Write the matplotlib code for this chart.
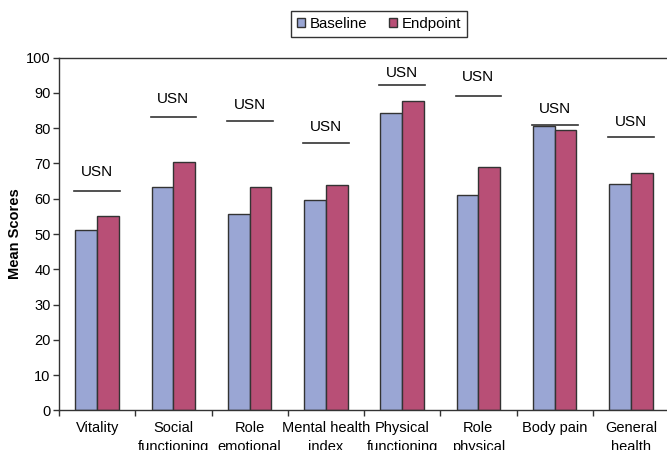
import numpy as np
import matplotlib.pyplot as plt
from matplotlib.patches import Patch

plt.rcParams["font.family"] = ["Liberation Sans", "DejaVu Sans"]

# SF-36 domains, mean scores
categories = ["Vitality", "Social\nfunctioning", "Role\nemotional", "Mental health\nindex",
              "Physical\nfunctioning", "Role\nphysical", "Body pain", "General\nhealth"]
baseline = [51, 63.4, 55.7, 59.7, 84.2, 61.1, 80.7, 64.1]
endpoint = [55, 70.5, 63.4, 63.8, 87.7, 68.9, 79.4, 67.2]

# level of the "USN" bracket line and its label for each domain
usn_line = [62.2, 83.3, 82.1, 75.8, 92.3, 89.1, 80.9, 77.5]
usn_text = [67.5, 88.3, 86.6, 80.4, 95.7, 94.6, 85.5, 81.7]

c_base = "#9aa6d4"
c_end = "#b84f76"
edge = "#333333"

fig = plt.figure(figsize=(6.67, 4.5), dpi=100)
ax = fig.add_axes([59 / 667, 39.7 / 450, 610 / 667, 352.6 / 450])

x = np.arange(len(categories))
w = 0.285
ax.bar(x - w / 2, baseline, w, color=c_base, edgecolor=edge, linewidth=1)
ax.bar(x + w / 2, endpoint, w, color=c_end, edgecolor=edge, linewidth=1)

for i in range(len(categories)):
    ax.plot([x[i] - 0.3, x[i] + 0.3], [usn_line[i], usn_line[i]], color="#333333", lw=1.2)
    ax.text(x[i], usn_text[i], "USN", ha="center", va="center", fontsize=11)

ax.set_xlim(-0.5, len(categories) - 0.5)
ax.set_ylim(0, 100)
ax.set_yticks(range(0, 101, 10))
ax.tick_params(axis="y", direction="out", length=4.5, width=1, labelsize=10.5, pad=1.5, color=edge)

ax.set_xticks(x)
ax.set_xticklabels(categories, fontsize=10.5, linespacing=1.4)
ax.set_xticks(np.arange(-0.5, len(categories) + 0.5), minor=True)
ax.tick_params(axis="x", which="major", length=0, pad=8)
ax.tick_params(axis="x", which="minor", direction="out", length=4.5, width=1, color=edge)

for s in ["left", "bottom", "top"]:
    ax.spines[s].set_color(edge)
    ax.spines[s].set_linewidth(1)
ax.spines["right"].set_visible(False)

ax.set_ylabel("Mean Scores", fontsize=10.5, fontweight="bold", labelpad=3)

handles = [Patch(facecolor=c_base, edgecolor=edge, label="Baseline"),
           Patch(facecolor=c_end, edgecolor=edge, label="Endpoint")]
fig.legend(handles=handles, loc="center", bbox_to_anchor=(379 / 667, 1 - 23.7 / 450),
           ncol=2, fontsize=10.8, frameon=True, fancybox=False, edgecolor="black",
           handlelength=0.55, handleheight=0.55, handletextpad=0.3, columnspacing=1.4,
           borderpad=0.4)

plt.savefig("out.png", dpi=100)
